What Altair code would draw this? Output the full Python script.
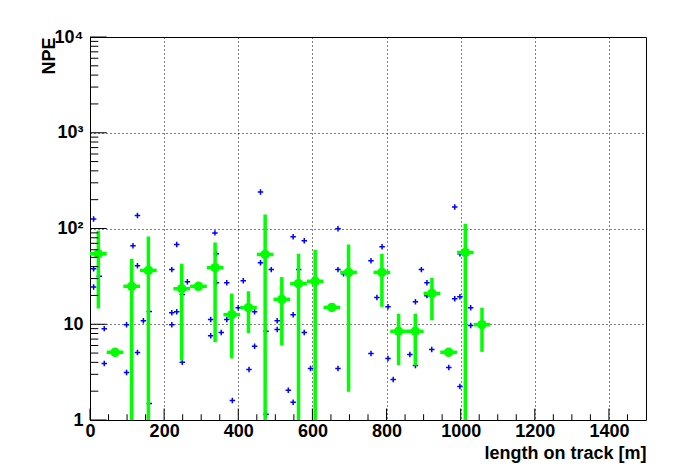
import altair as alt
import pandas as pd

# Green: binned mean with error bars
gx = [22.5, 67.5, 112.5, 157.5, 247.5, 292.5, 337.5, 382.5, 427.5, 472.5, 517.5,
      562.5, 607.5, 652.5, 697.5, 787.5, 832.5, 877.5, 922.5, 967.5, 1012.5, 1057.5]
gy = [54.5, 5.1, 24.9, 36.5, 23.5, 24.9, 39.0, 12.6, 14.9, 53.6, 18.2,
      26.5, 28.1, 15.0, 34.8, 34.8, 8.45, 8.45, 21.0, 5.1, 56.2, 9.9]
ghi = [95, 5.6, 48.3, 82.5, 42.9, 26.5, 71.5, 20.9, 22.1, 140, 31.1,
       54.5, 60, 16.0, 68.1, 54.5, 12.9, 12.9, 30.6, 5.6, 112, 14.9]
glo = [14.6, 4.6, 0.5, 0.5, 4.2, 23.4, 6.5, 4.4, 8.1, 0.5, 6.0,
       0.5, 0.5, 14.0, 1.97, 15.2, 3.74, 3.7, 11.0, 4.6, 0.5, 5.15]
gxerr = 22.5

# Blue: individual entries
bx = [9.7, 9.7, 9.7, 25, 38.5, 38.5, 98.6, 98.6, 128, 128, 116, 128, 144, 160, 160,
      220.7, 234, 220.7, 234, 220.7, 262.7, 249, 249, 337, 341, 341, 325.6, 325.6, 354,
      369, 369, 384, 400, 413.5, 429, 444, 444, 460, 460, 475, 475, 489, 505, 505,
      535, 548, 548, 548, 578, 578, 595, 563, 669, 669, 669, 684, 758, 758, 774, 788,
      804, 804, 818, 863, 878, 878, 894, 909, 909, 922, 968, 984, 984, 998, 998, 998,
      1027, 1027]
by = [126, 38, 24.5, 31.8, 9.0, 3.9, 9.9, 3.14, 136.5, 5.07, 66, 40.9, 10.9, 13.6, 1.49,
      37.2, 68, 13.2, 13.5, 9.9, 27.8, 20.4, 4.0, 90, 54.5, 27.2, 11.2, 7.6, 8.2,
      27.2, 11.2, 1.6, 14.9, 28.5, 3.37, 13.5, 5.9, 241, 44, 8.45, 1.15, 37.2, 10.9, 8.8,
      2.04, 81.9, 12.6, 1.53, 74.5, 8.2, 3.45, 37.2, 99.3, 37.2, 3.45, 33.7, 46, 4.95, 19, 64.4,
      15.2, 4.4, 2.65, 4.83, 17.2, 3.7, 37.2, 27.2, 19.9, 5.45, 3.54, 168, 18.5, 54.5, 19.4, 2.24,
      14.9, 9.7]

xmaj = [0, 200, 400, 600, 800, 1000, 1200, 1400]
xmin = [v for v in range(50, 1500, 50) if v % 200 != 0]
ymaj = [1, 10, 100, 1000, 10000]
ymin = [k * 10 ** d for d in range(4) for k in range(2, 10)]

W, H = 556, 383
GREEN = "#00ff00"
BLUE = "#0000ff"
FONT = "Liberation Sans"
FS = 18

xs = alt.Scale(domain=[0, 1500], nice=False, zero=False)
ys = alt.Scale(type="log", domain=[1, 10000], nice=False)

gdf = pd.DataFrame({"x": gx, "y": gy, "hi": ghi, "lo": glo})
gdf["xlo"] = gdf["x"] - gxerr
gdf["xhi"] = gdf["x"] + gxerr
bdf = pd.DataFrame({"x": bx, "y": by})

xaxis = alt.Axis(values=xmaj, format="d", grid=True, gridDash=[1, 3], gridColor="black",
                 gridOpacity=1, ticks=False, domain=False, labelFontSize=FS,
                 labelFontWeight="bold", labelFont=FONT, labelPadding=2, labelOverlap=False,
                 labelFlush=False, labelColor="black",
                 title="length on track [m]", titleFont=FONT, titleFontSize=FS,
                 titleFontWeight="bold", titleColor="black",
                 titleX=W, titleY=38, titleAlign="right", titleBaseline="alphabetic")
yaxis = alt.Axis(values=ymaj, grid=True, gridDash=[1, 3], gridColor="black", gridOpacity=1,
                 ticks=False, domain=False, labelFontSize=FS, labelFontWeight="bold",
                 labelFont=FONT, labelPadding=7, labelOverlap=False, labelFlush=False,
                 labelColor="black",
                 labelExpr="datum.value == 1 ? '1' : datum.value == 10 ? '10' : datum.value == 100 ? '10\u00b2' : datum.value == 1000 ? '10\u00b3' : '10\u2074'",
                 title="NPE", titleFont=FONT, titleFontSize=FS, titleFontWeight="bold",
                 titleColor="black", titleAngle=270,
                 titleX=-36, titleY=0, titleAlign="right", titleBaseline="alphabetic")

def X(f):
    return alt.X(f, scale=xs, axis=xaxis)

def Y(f):
    return alt.Y(f, scale=ys, axis=yaxis)

blue = alt.Chart(bdf).mark_point(shape="M-1,0H1M0,-1V1", size=30, filled=False,
                                 strokeWidth=1.5, color=BLUE, opacity=1).encode(
    x=X("x:Q"), y=Y("y:Q"))

gv = alt.Chart(gdf).mark_rule(strokeWidth=3.5, color=GREEN, clip=True).encode(
    x=X("x:Q"), y=Y("lo:Q"), y2="hi:Q")
gh = alt.Chart(gdf).mark_rule(strokeWidth=3.5, color=GREEN, clip=True).encode(
    x=X("xlo:Q"), x2="xhi:Q", y=Y("y:Q"))
gp = alt.Chart(gdf).mark_circle(size=90, color=GREEN, opacity=1).encode(
    x=X("x:Q"), y=Y("y:Q"))

def xticks(vals, length):
    return alt.Chart(pd.DataFrame({"x": vals})).mark_rule(color="black", strokeWidth=1).encode(
        x=X("x:Q"), y=alt.value(H), y2=alt.value(H - length))

def yticks(vals, length):
    return alt.Chart(pd.DataFrame({"y": vals})).mark_rule(color="black", strokeWidth=1).encode(
        y=Y("y:Q"), x=alt.value(0), x2=alt.value(length))

chart = alt.layer(
    blue, gv, gh, gp,
    xticks(xmaj, 11.5), xticks(xmin, 5.75),
    yticks(ymaj, 16.7), yticks(ymin, 8.3),
).properties(
    width=W, height=H,
    padding={"left": 82, "top": 29, "right": 42, "bottom": 44},
    autosize="none",
    background="white",
).configure_view(stroke="black", strokeWidth=1)

chart.save("out.html", embed_options={"renderer": "svg", "actions": False})
